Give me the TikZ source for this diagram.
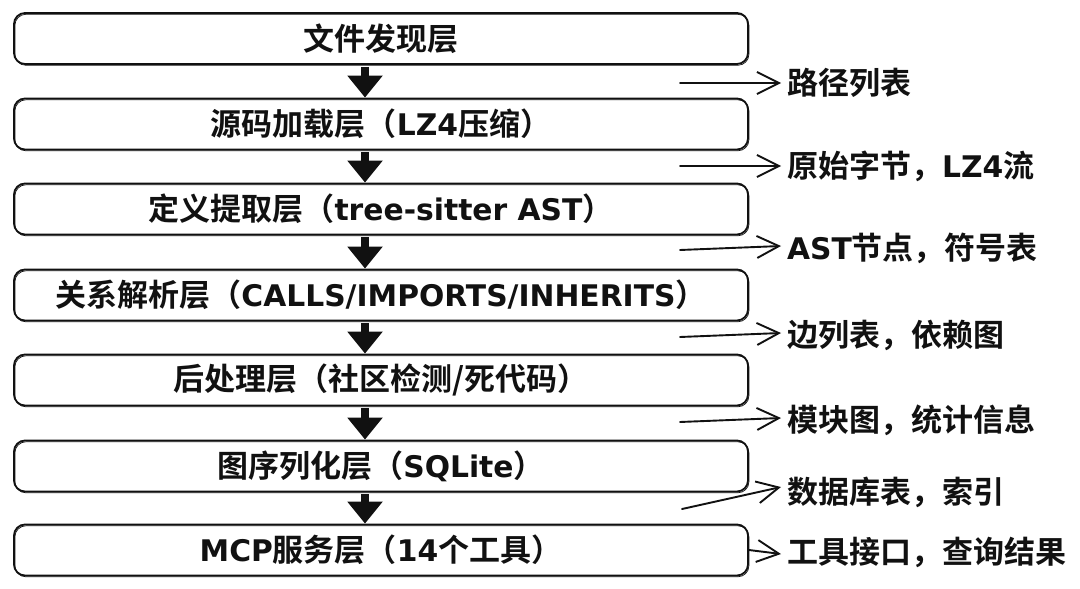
\documentclass[tikz,border=0pt]{standalone}
\usepackage{fontspec}
\setmainfont{Noto Sans CJK SC}[BoldFont={Noto Sans CJK SC Bold}]
\newfontfamily\latinf{DejaVu Sans}[Scale=0.96]
\newcommand\lt[1]{{\latinf #1}}
\usetikzlibrary{arrows.meta}
\definecolor{ink}{HTML}{111111}
\tikzset{
  layer/.style={draw=ink, line width=1.8pt, rounded corners=11pt,
    minimum width=734pt, minimum height=51pt, inner sep=0pt,
    font=\fontsize{31}{33}\selectfont\bfseries, text=ink,
    postaction={draw=ink, line width=0.7pt, transform canvas={shift={(0.9pt,-1.3pt)}}}},
  lab/.style={anchor=west, inner sep=0pt, font=\fontsize{31}{33}\selectfont\bfseries, text=ink},
  downarrow/.style={draw=ink, line width=7.5pt, -{Triangle[width=34pt,length=22pt]}, shorten <=2pt},
  sidearrow/.style={draw=ink, line width=1.9pt, line cap=round, -{Straight Barb[length=22pt,width=22pt,line width=1.9pt]}}
}
\begin{document}
\begin{tikzpicture}[x=1pt,y=-1pt]
\useasboundingbox[fill=white] (0,0) rectangle (1080,589);
% layers
\node[layer] (L1) at (381,38.5) {文件发现层};
\node[layer] (L2) at (381,124) {源码加载层（\lt{LZ4}压缩）};
\node[layer] (L3) at (381,209) {定义提取层（\lt{tree-sitter AST}）};
\node[layer] (L4) at (381,295) {关系解析层（\lt{CALLS/IMPORTS/INHERITS}）};
\node[layer] (L5) at (381,380) {后处理层（社区检测/死代码）};
\node[layer] (L6) at (381,466) {图序列化层（\lt{SQLite}）};
\node[layer] (L7) at (381,550) {\lt{MCP}服务层（\lt{14}个工具）};
% down arrows
\foreach \a/\b in {L1/L2,L2/L3,L3/L4,L4/L5,L5/L6,L6/L7}
  \draw[downarrow] ([xshift=-16pt]\a.south) -- ([xshift=-16pt]\b.north);
% side labels
\node[lab] (R1) at (787,83) {路径列表};
\node[lab] (R2) at (787,166) {原始字节，\lt{LZ4}流};
\node[lab] (R3) at (787,248) {\lt{AST}节点，符号表};
\node[lab] (R4) at (787,335) {边列表，依赖图};
\node[lab] (R5) at (787,420) {模块图，统计信息};
\node[lab] (R6) at (787,492) {数据库表，索引};
\node[lab] (R7) at (787,552) {工具接口，查询结果};
\coordinate (S1) at (680,83);
\coordinate (S2) at (680,166);
\coordinate (S3) at (680,250);
\coordinate (S4) at (680,337);
\coordinate (S5) at (680,422);
\coordinate (S6) at (682,509);
\draw[sidearrow] (S1) -- ([xshift=-6pt]R1.west);
\draw[sidearrow] (S2) -- ([xshift=-6pt]R2.west);
\draw[sidearrow] (S3) -- ([xshift=-6pt,yshift=2pt]R3.west);
\draw[sidearrow] (S4) -- ([xshift=-6pt,yshift=2pt]R4.west);
\draw[sidearrow] (S5) -- ([xshift=-6pt,yshift=2pt]R5.west);
\draw[sidearrow] (S6) -- ([xshift=-6pt,yshift=5pt]R6.west);
\draw[sidearrow] (L7.east) -- ([xshift=-6pt,yshift=-2pt]R7.west);
\end{tikzpicture}
\end{document}
